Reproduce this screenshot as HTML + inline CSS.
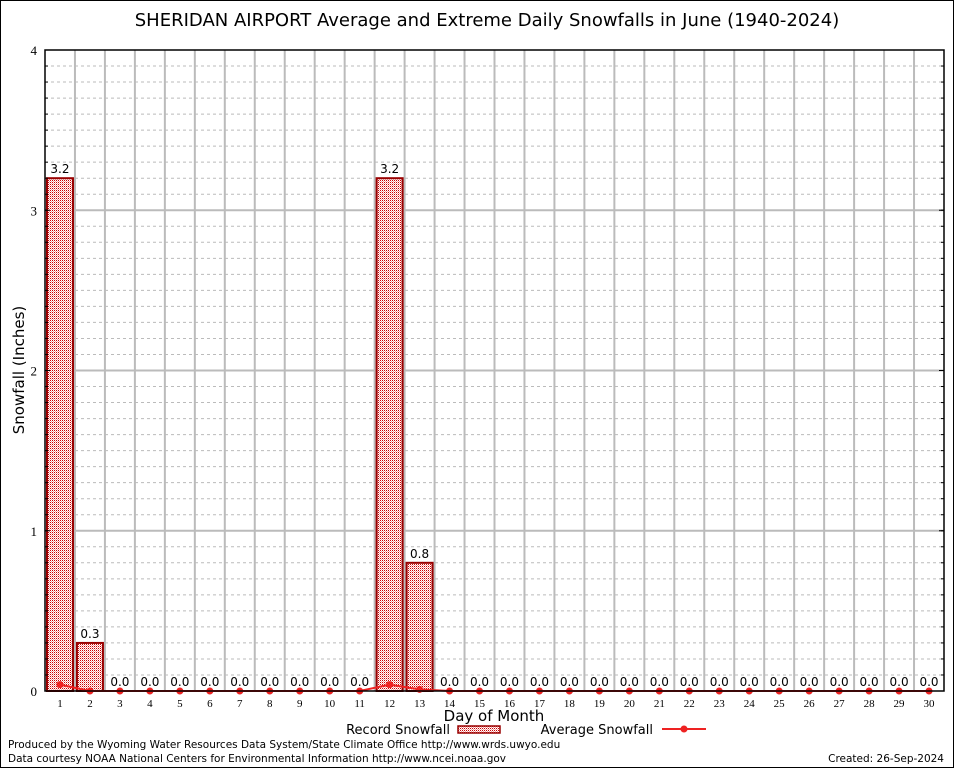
<!DOCTYPE html>
<html><head><meta charset="utf-8"><style>
body{margin:0;background:#fff}
svg text{font-family:"DejaVu Sans","Liberation Sans",sans-serif}
</style></head><body>
<svg id="c" width="954" height="768" xmlns="http://www.w3.org/2000/svg">
<defs><pattern id="chk" width="2" height="2" patternUnits="userSpaceOnUse"><rect width="2" height="2" fill="#fff"/><rect width="1" height="1" fill="#c00"/><rect x="1" y="1" width="1" height="1" fill="#f5a0a0"/></pattern></defs>
<rect x="0.5" y="0.5" width="953" height="767" fill="#fff" stroke="#000"/>
<text x="487" y="26" font-size="18" text-anchor="middle">SHERIDAN AIRPORT Average and Extreme Daily Snowfalls in June (1940-2024)</text>
<g id="grid"></g><g id="bars"></g><g id="avg"></g><g id="axes"></g>
<text x="24" y="370" font-size="15" text-anchor="middle" transform="rotate(-90 24 370)">Snowfall (Inches)</text>
<text x="494" y="721" font-size="15" text-anchor="middle">Day of Month</text>
<g><text x="450" y="734" font-size="13" text-anchor="end">Record Snowfall</text><rect x="458" y="726" width="42" height="7" fill="url(#chk)" stroke="#900" stroke-width="1.5"/></g>
<g><text x="653" y="734" font-size="13" text-anchor="end">Average Snowfall</text><line x1="662" y1="729" x2="706" y2="729" stroke="#e22" stroke-width="2"/><circle cx="684" cy="729" r="3.5" fill="#e22"/></g>
<text x="8" y="748" font-size="10.5">Produced by the Wyoming Water Resources Data System/State Climate Office http://www.wrds.uwyo.edu</text>
<text x="8" y="762" font-size="10.5">Data courtesy NOAA National Centers for Environmental Information http://www.ncei.noaa.gov</text>
<text x="944" y="762" font-size="10.5" text-anchor="end">Created:  26-Sep-2024</text>
</svg>
<script>
const days=[1,2,3,4,5,6,7,8,9,10,11,12,13,14,15,16,17,18,19,20,21,22,23,24,25,26,27,28,29,30];
const recordSnow=[3.2,0.3,0,0,0,0,0,0,0,0,0,3.2,0.8,0,0,0,0,0,0,0,0,0,0,0,0,0,0,0,0,0];
const avgSnow=[0.04,0,0,0,0,0,0,0,0,0,0,0.04,0.01,0,0,0,0,0,0,0,0,0,0,0,0,0,0,0,0,0];
const yTicks=[0,1,2,3,4];
const L=45,R=944,T=50,B=691,NS="http://www.w3.org/2000/svg";
const bw=(R-L)/days.length;
const xs=d=>L+(d-0.5)*bw;
const ys=v=>B-(v/4)*(B-T);
function mk(p,t,a){const e=document.createElementNS(NS,t);for(const k in a)e.setAttribute(k,a[k]);document.getElementById(p).appendChild(e);return e;}
for(let i=1;i<40;i++){if(i%10==0)continue;const y=ys(i/10);const e=mk('grid','line',{x1:L,x2:R,y1:y,y2:y,stroke:'#bbb','stroke-dasharray':'3,3'});

}
for(let d=1;d<days.length;d++){const x=L+d*bw;const e=mk('grid','line',{x1:x,x2:x,y1:T,y2:B,stroke:'#bbb','stroke-width':2});

}
yTicks.forEach(v=>{const y=ys(v);if(v>0&&v<4){const g=mk('grid','line',{x1:L,x2:R,y1:y,y2:y,stroke:'#bbb','stroke-width':2});

}
const t=mk('axes','text',{x:L-8,y:y+5,'font-size':13,'text-anchor':'end',style:'font-family:"Liberation Serif",serif'});t.textContent=v;


mk('axes','line',{x1:L,x2:L+5,y1:y,y2:y,stroke:'#000'});mk('axes','line',{x1:R,x2:R-5,y1:y,y2:y,stroke:'#000'});});
for(let i=1;i<40;i++){const y=ys(i/10);mk('axes','line',{x1:L,x2:L+3,y1:y,y2:y,stroke:'#000'});mk('axes','line',{x1:R,x2:R-3,y1:y,y2:y,stroke:'#000'});}
days.forEach((d,i)=>{const v=recordSnow[i],x=xs(d);
if(v>0){const r=mk('bars','rect',{x:x-13,y:ys(v),width:26,height:B-ys(v),fill:'url(#chk)',stroke:'#900','stroke-width':2});

}
const t=mk('bars','text',{x:x,y:ys(v)-5,'font-size':12,'text-anchor':'middle'});t.textContent=v.toFixed(1);


const xl=mk('axes','text',{x:x,y:B+16,'font-size':11,'text-anchor':'middle',style:'font-family:"Liberation Serif",serif'});xl.textContent=d;

});
const pts=days.map((d,i)=>xs(d)+','+ys(avgSnow[i])).join(' ');
const pl=mk('avg','polyline',{points:pts,fill:'none',stroke:'#e22','stroke-width':2});


days.forEach((d,i)=>{const c=mk('avg','circle',{cx:xs(d),cy:ys(avgSnow[i]),r:3.5,fill:'#e22'});

});
const ax=mk('axes','rect',{x:L,y:T,width:R-L,height:B-T,fill:'none',stroke:'#000','stroke-width':1.5});


</script>
</body></html>
